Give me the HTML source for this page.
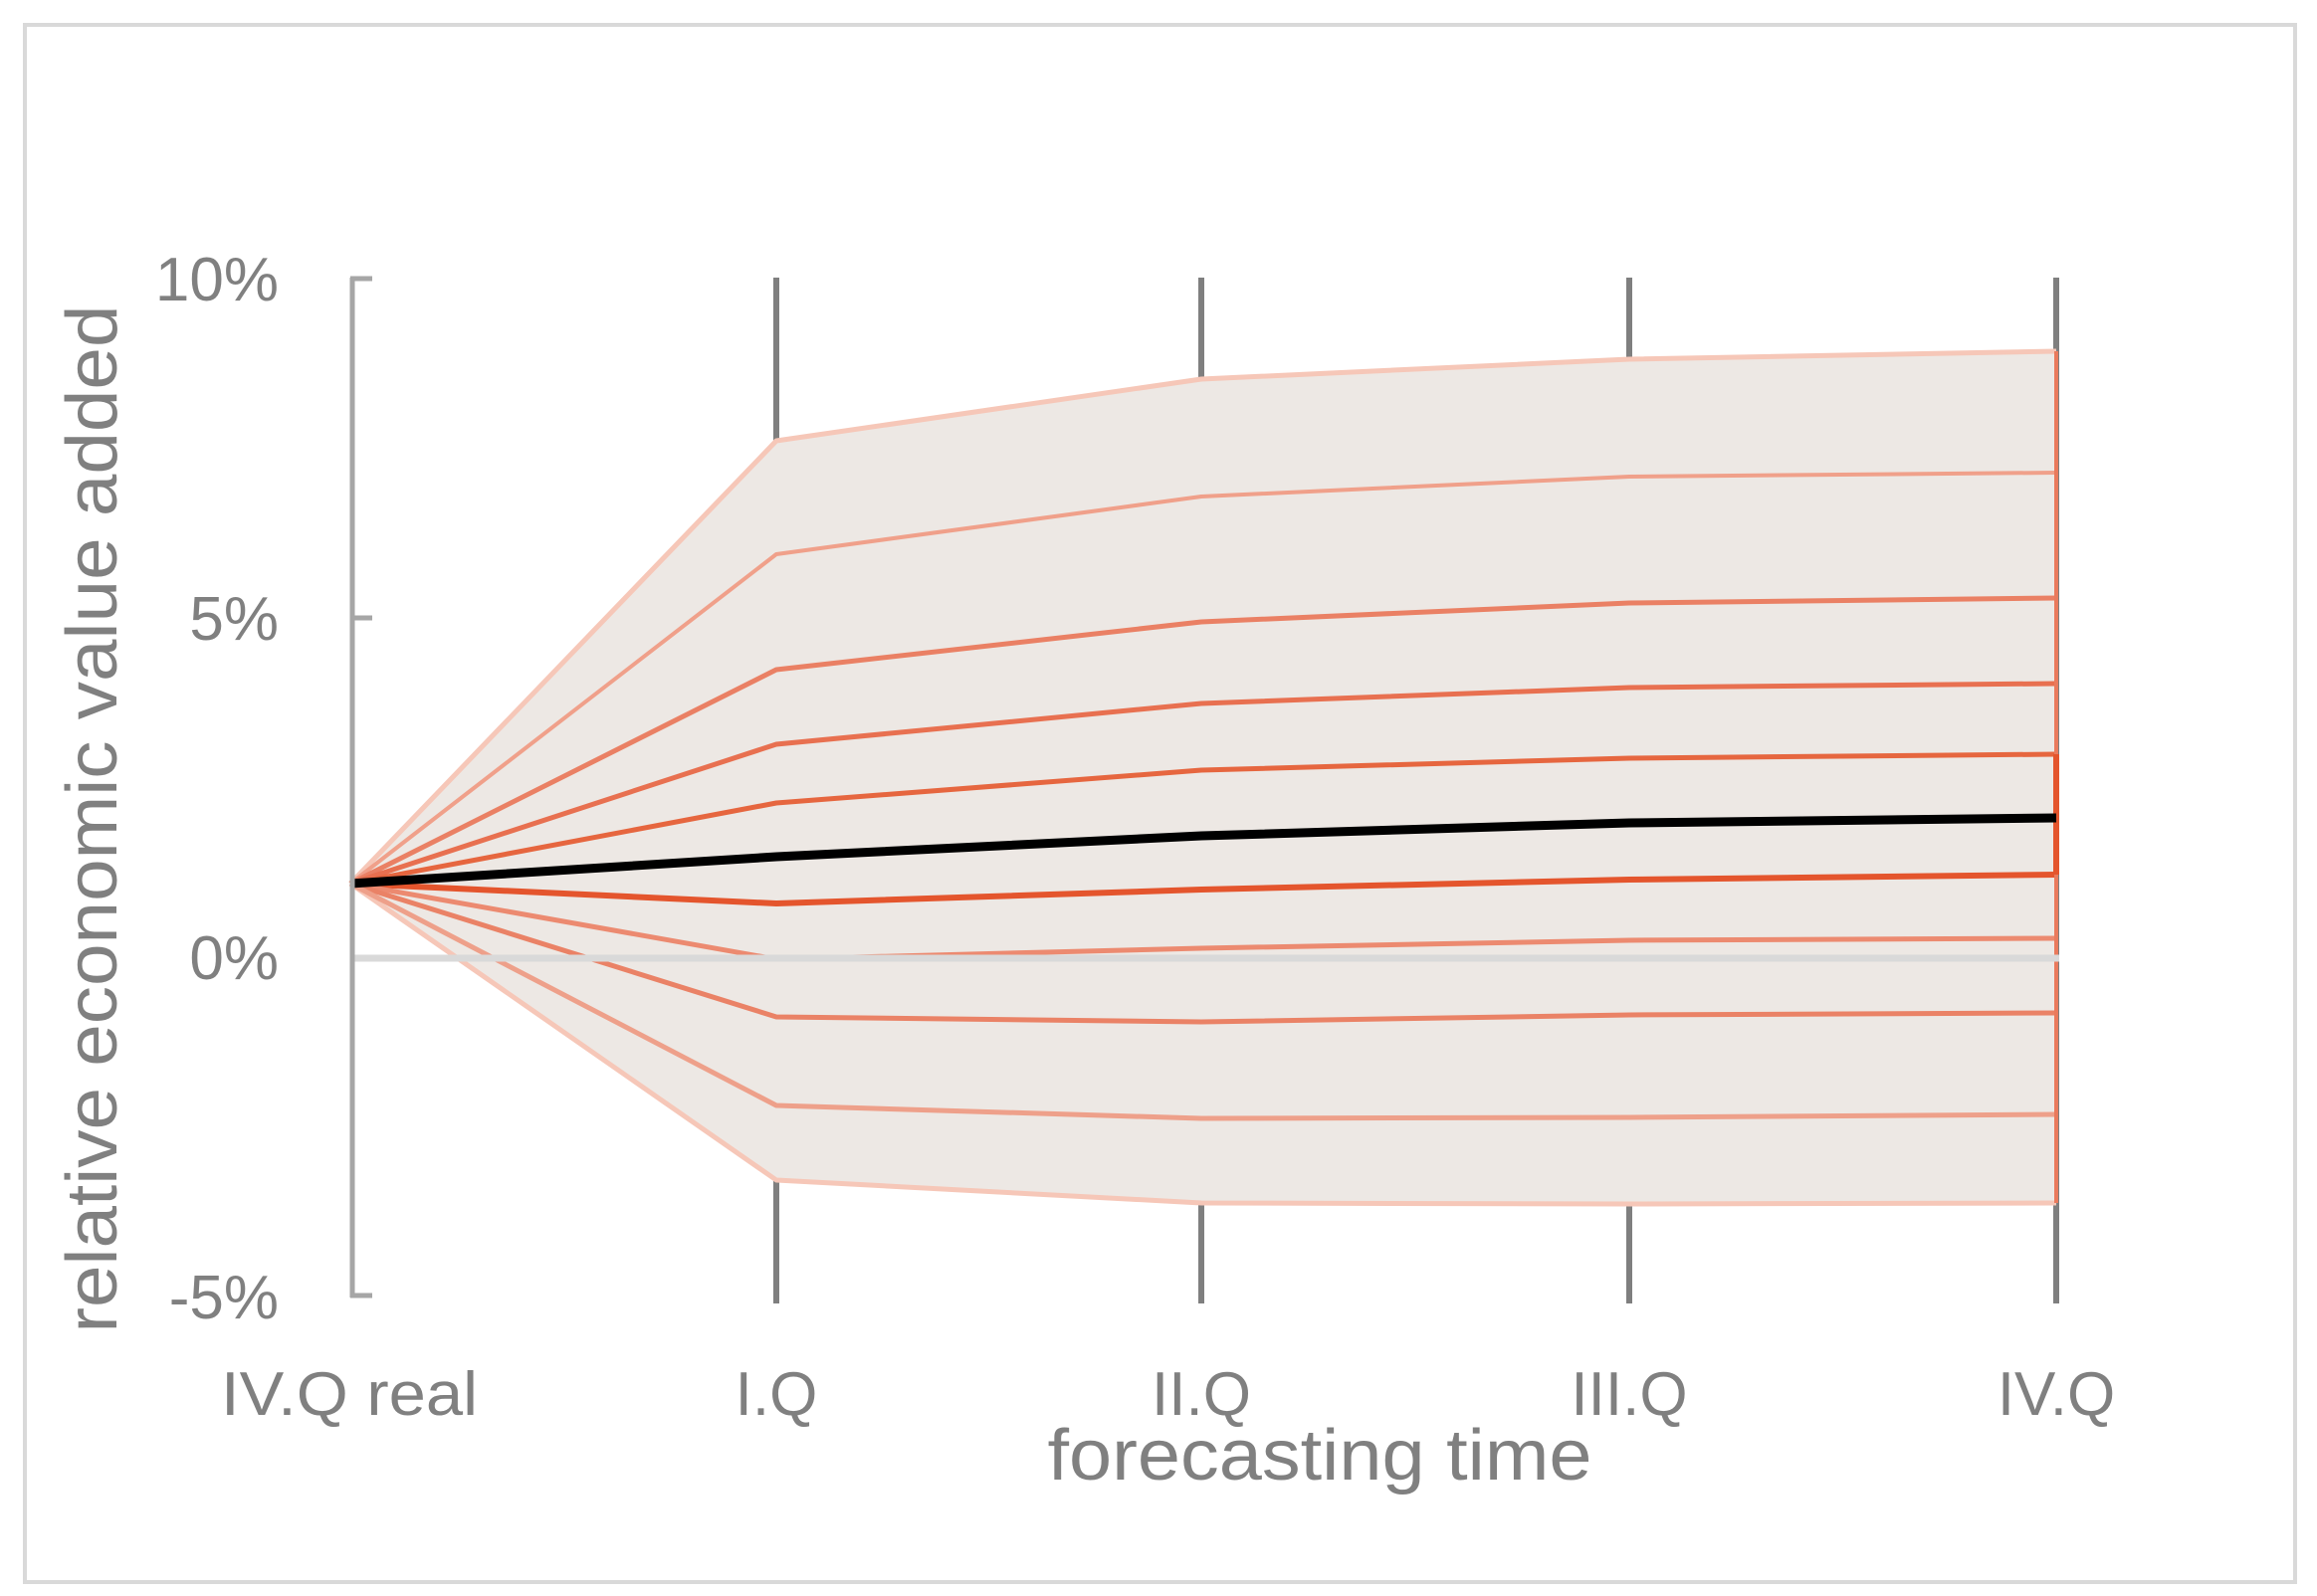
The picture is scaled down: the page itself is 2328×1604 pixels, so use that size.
<!DOCTYPE html>
<html><head><meta charset="utf-8"><style>html,body{margin:0;padding:0;background:#fff}svg{display:block}</style></head>
<body>
<svg width="2328" height="1604" viewBox="0 0 2328 1604" xmlns="http://www.w3.org/2000/svg" font-family="'Liberation Sans', sans-serif">
<rect x="25" y="25" width="2281" height="1565" fill="#fff" stroke="#d9d9d9" stroke-width="4"/>
<g stroke="#7f7f7f" stroke-width="6">
<line x1="780" y1="279" x2="780" y2="1310"/>
<line x1="1207" y1="279" x2="1207" y2="1310"/>
<line x1="1637" y1="279" x2="1637" y2="1310"/>
<line x1="2066" y1="279" x2="2066" y2="1310"/>
</g>
<polygon fill="#ede8e4" points="352,888 780,443 1207,381 1637,361 2066,353 2066,1209 1637,1210 1207,1209 780,1186"/>
<g fill="none" stroke-linejoin="round">
<polyline stroke="#f6c7b8" stroke-width="5" points="352,888 780,443 1207,381 1637,361 2066,353"/>
<polyline stroke="#f6c7b8" stroke-width="5" points="352,888 780,1186 1207,1209 1637,1210 2066,1209"/>
<polyline stroke="#f0a08a" stroke-width="4" points="352,888 780,557 1207,499 1637,479 2066,475"/>
<polyline stroke="#ea8064" stroke-width="5" points="352,888 780,673 1207,625 1637,606 2066,601"/>
<polyline stroke="#e87050" stroke-width="5" points="352,888 780,748 1207,707 1637,691 2066,687"/>
<polyline stroke="#e6663f" stroke-width="5" points="352,888 780,807 1207,774 1637,762 2066,758"/>
<polyline stroke="#e4552d" stroke-width="6" points="352,888 780,908 1207,894 1637,884 2066,879"/>
<polyline stroke="#ec8a70" stroke-width="5" points="352,888 780,964 1207,953 1637,945 2066,943"/>
<polyline stroke="#ea8266" stroke-width="5" points="352,888 780,1022 1207,1027 1637,1020 2066,1018"/>
<polyline stroke="#eea08a" stroke-width="5" points="352,888 780,1111 1207,1124 1637,1123 2066,1120"/>
<line x1="2066" y1="353" x2="2066" y2="1209" stroke="#ea7a5c" stroke-width="4"/>
<line x1="2066" y1="758" x2="2066" y2="879" stroke="#e4552d" stroke-width="6"/>
<polyline stroke="#000" stroke-width="9" points="352,888 780,861 1207,840 1637,827 2066,822"/>
</g>
<line x1="352" y1="963" x2="2069" y2="963" stroke="#d9d9d9" stroke-width="7"/>
<g stroke="#a6a6a6" stroke-width="5" fill="none">
<line x1="354" y1="279" x2="354" y2="1304"/>
<line x1="352" y1="280" x2="374" y2="280"/>
<line x1="352" y1="621" x2="374" y2="621"/>
<line x1="352" y1="1302" x2="374" y2="1302"/>
</g>
<g fill="#808080" font-size="62">
<text x="280" y="302" text-anchor="end">10%</text>
<text x="280" y="643" text-anchor="end">5%</text>
<text x="280" y="984" text-anchor="end">0%</text>
<text x="280" y="1325" text-anchor="end">-5%</text>
<text x="351" y="1422" text-anchor="middle" textLength="258" lengthAdjust="spacingAndGlyphs">IV.Q real</text>
<text x="780" y="1422" text-anchor="middle">I.Q</text>
<text x="1207" y="1422" text-anchor="middle">II.Q</text>
<text x="1637" y="1422" text-anchor="middle">III.Q</text>
<text x="2066" y="1422" text-anchor="middle">IV.Q</text>
<text x="1326" y="1487" text-anchor="middle" font-size="72" textLength="547" lengthAdjust="spacingAndGlyphs">forecasting time</text>
<text transform="translate(117,823) rotate(-90)" text-anchor="middle" font-size="72" textLength="1033" lengthAdjust="spacingAndGlyphs">relative economic value added</text>
</g>
</svg>
</body></html>
